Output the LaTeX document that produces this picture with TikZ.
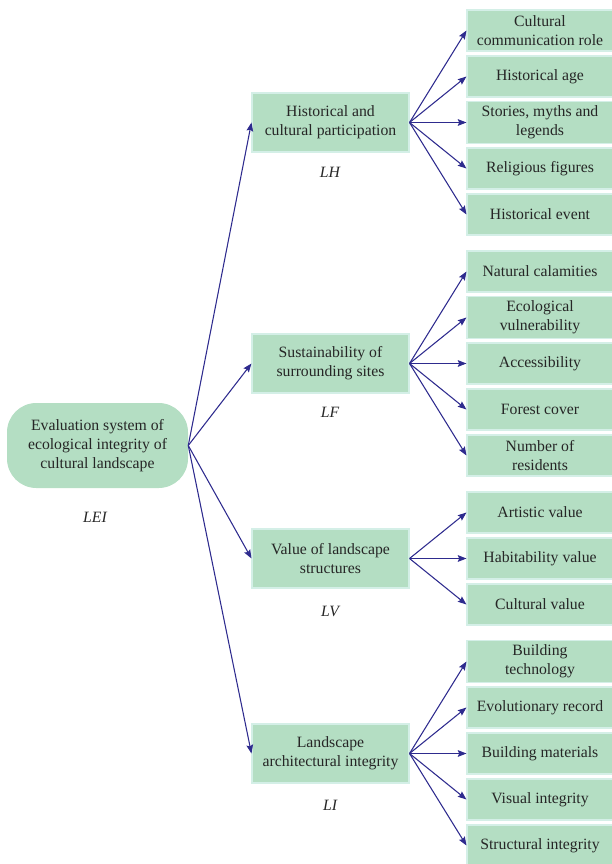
\documentclass[tikz,border=0pt]{standalone}
\usepackage{fontspec}
\setmainfont{Liberation Serif}
\usetikzlibrary{arrows.meta}
\definecolor{vertpale}{HTML}{B4DEC3}
\definecolor{bordpale}{HTML}{D4EFE7}
\definecolor{indigo}{HTML}{2E2B8E}
\tikzset{
    texte/.style={align=center, font=\fontsize{11.8}{14.3}\selectfont, text=black!85},
    racine/.style={texte, fill=vertpale, rounded corners=22pt, minimum width=135.75pt, minimum height=63.75pt},
    critere/.style={texte, fill=vertpale, draw=bordpale, line width=0.8pt, minimum width=117.75pt, minimum height=44.25pt},
    feuille/.style={texte, fill=vertpale, draw=bordpale, line width=0.8pt, minimum width=109.5pt, minimum height=30.75pt},
    code/.style={font=\fontsize{11.8}{14}\selectfont\itshape, text=black!85},
    fleche/.style={-{Stealth[length=6.5pt, width=5pt, inset=1pt]}, line width=0.8pt, indigo},
}
\begin{document}
\begin{tikzpicture}[x=0.75pt, y=-0.75pt]
\useasboundingbox (0,0) rectangle (611,864);
% racine
\node[racine] (lei) at (97.5,445.5) {Evaluation system of\\ecological integrity of\\cultural landscape};
\node[code] (lei code) at (95,517) {LEI};
% criteres
\node[critere] (lh) at (330.5,122.5) {Historical and\\cultural participation};
\node[critere] (lf) at (330.5,363.5) {Sustainability of\\surrounding sites};
\node[critere] (lv) at (330.5,558.5) {Value of landscape\\structures};
\node[critere] (li) at (330.5,753.5) {Landscape\\architectural integrity};
\node[code] (lh code) at (330,172) {LH};
\node[code] (lf code) at (330,412) {LF};
\node[code] (lv code) at (330,611) {LV};
\node[code] (li code) at (330,805) {LI};
\foreach \c in {lh,lf,lv,li} {\draw[fleche] (lei.east) -- (\c.west);}
% indicateurs
\foreach \t [count=\i] in {{Cultural\\communication role}, Historical age, {Stories, myths and\\legends}, Religious figures, Historical event} {
    \node[feuille] (lh\i) at (540,122.5+46*\i-138) {\t};
    \draw[fleche] (lh.east) -- (lh\i.west);
}
\foreach \t [count=\i] in {Natural calamities, {Ecological\\vulnerability}, Accessibility, Forest cover, {Number of\\residents}} {
    \node[feuille] (lf\i) at (540,363.5+46*\i-138) {\t};
    \draw[fleche] (lf.east) -- (lf\i.west);
}
\foreach \t [count=\i] in {Artistic value, Habitability value, Cultural value} {
    \node[feuille] (lv\i) at (540,558.5+46*\i-92) {\t};
    \draw[fleche] (lv.east) -- (lv\i.west);
}
\foreach \t [count=\i] in {{Building\\technology}, Evolutionary record, Building materials, Visual integrity, Structural integrity} {
    \node[feuille] (li\i) at (540,753.5+46*\i-138) {\t};
    \draw[fleche] (li.east) -- (li\i.west);
}
\end{tikzpicture}
\end{document}
